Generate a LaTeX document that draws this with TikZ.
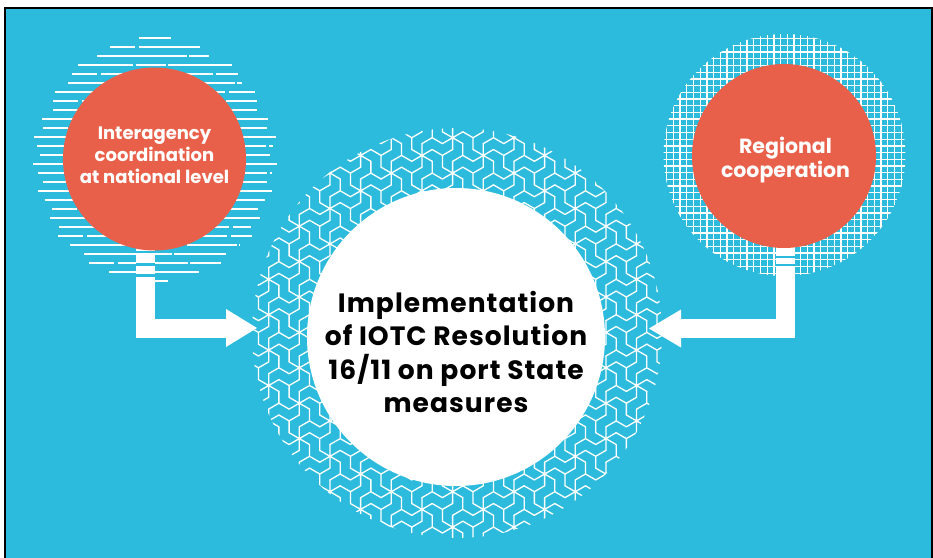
\documentclass[tikz,border=0pt]{standalone}
\usepackage{fontspec}
\newfontfamily\labelfont{Poppins}
\newfontfamily\centerfont{Poppins}[LetterSpace=4]
\definecolor{bgblue}{HTML}{2DBBDD}
\definecolor{circred}{HTML}{E9604A}
\tikzset{
  hatch0/.style={white, line width=1.5, dash pattern=on 55pt off 3pt on 30pt off 2pt on 80pt off 4pt},
  hatch1/.style={white, line width=1.5, dash pattern=on 25pt off 4pt on 70pt off 2pt on 40pt off 3pt},
  hatch2/.style={white, line width=1.5, dash pattern=on 90pt off 2pt on 20pt off 5pt on 50pt off 2pt},
  gridline/.style={white, line width=1.3},
  hexline/.style={white, line width=1.3, line cap=round},
  bar/.style={white, line width=19pt, line join=miter},
  redcirc/.style={circle, fill=circred, inner sep=0pt},
  whitetext/.style={text=white, align=center, inner sep=0pt},
}
\begin{document}
\begin{tikzpicture}[x=1pt,y=-1pt]
\useasboundingbox (0,0) rectangle (933,557);
\fill[white] (0,0) rectangle (933,557);
\draw[black, line width=2.5pt, fill=bgblue] (5,8) rectangle (932,566);

% left hatched disk
\foreach \k in {0,...,27} {
  \pgfmathsetmacro\yy{38+\k*9}
  \pgfmathsetmacro\ww{sqrt(max(0,123*123-(\yy-160)*(\yy-160)))-mod(\k*37,11)}
  \pgfmathtruncatemacro\m{mod(\k,3)}
  \draw[hatch\m] ({155-\ww},\yy) -- ({155+\ww},\yy);
}

% right grid disk
\begin{scope}
\clip (784.5,155) circle (121);
\foreach \v in {0,...,37} {
  \draw[gridline] ({660+\v*6.7},30) -- ({660+\v*6.7},280);
  \draw[gridline] (660,{32+\v*6.7}) -- (910,{32+\v*6.7});
}
\end{scope}

% star / chevron ring pattern
\begin{scope}
\clip (457,333) circle (205);
\foreach \j in {0,...,25} {
  \foreach \i in {0,...,22} {
    \pgfmathsetmacro\cx{238+\i*20.44+mod(\j,2)*10.22}
    \pgfmathsetmacro\cy{120+\j*17.7}
    \pgfmathtruncatemacro\cc{mod(\i-floor(\j/2)-\j+300,3)}
    \ifcase\cc
      \draw[hexline] (\cx,\cy) -- +(30:11.8) (\cx,\cy) -- +(90:11.8) (\cx,\cy) -- +(150:11.8)
        (\cx,\cy) -- +(210:11.8) (\cx,\cy) -- +(270:11.8) (\cx,\cy) -- +(330:11.8);
    \or
      \draw[hexline] (\cx,\cy) -- +(90:11.8) (\cx,\cy) -- +(210:11.8) (\cx,\cy) -- +(330:11.8);
    \or
      \draw[hexline] (\cx,\cy) -- +(30:11.8) (\cx,\cy) -- +(150:11.8) (\cx,\cy) -- +(270:11.8);
    \fi
  }
}
\end{scope}

% centre disk
\node[circle, fill=white, minimum size=298pt, inner sep=0pt] (C) at (456,337) {};
\node[align=center, inner sep=0pt, font=\centerfont\bfseries\fontsize{26.5}{33.5}\selectfont] (Ct) at (456,352)
  {Implementation\\of IOTC Resolution\\16/11 on port State\\measures};

% arrows
\coordinate (LA) at (145.5,245);
\coordinate (LB) at (226,328);
\draw[bar] (LA) |- (LB);
\fill[white] (LB) ++(0,-19) -- ++(31,19) -- ++(-31,19) -- cycle;
\foreach \s in {252,264.5,275.5} \draw[bgblue, line width=2.4pt] (136,\s) -- (155,\s);

\coordinate (RA) at (785.5,245);
\coordinate (RB) at (681,328.5);
\draw[bar] (RA) |- (RB);
\fill[white] (RB) ++(0,-19) -- ++(-32,19) -- ++(32,19) -- cycle;
\foreach \s in {257,265} \draw[bgblue, line width=2pt] (776,\s) -- (795,\s);

% red circles
\node[redcirc, minimum size=183pt] (L) at (154.5,159) {};
\node[whitetext, font=\labelfont\bfseries\fontsize{18}{22.2}\selectfont] (Lt) at (154.5,155.5)
  {Interagency\\coordination\\at national level};
\node[redcirc, minimum size=184pt] (R) at (784,156) {};
\node[whitetext, font=\labelfont\bfseries\fontsize{20.5}{24.4}\selectfont] (Rt) at (785.5,160)
  {Regional\\cooperation};
\end{tikzpicture}
\end{document}
